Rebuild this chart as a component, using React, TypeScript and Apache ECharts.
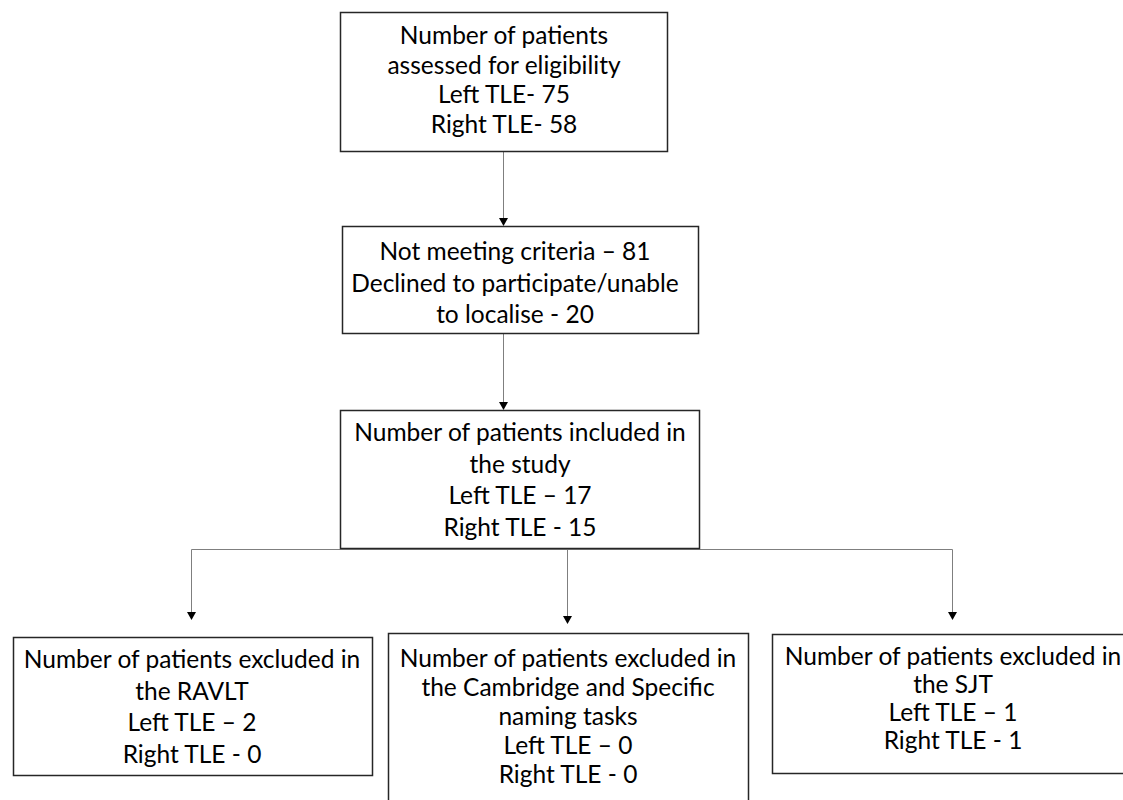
import React, { useEffect, useRef } from "react";
import * as echarts from "echarts";

// ---- Data (texts of the flow chart) ----
const assessedLines = ["Number of patients", "assessed for eligibility", "Left TLE- 75", "Right TLE- 58"];
const excludedLines = ["Not meeting criteria \u2013 81", "Declined to participate/unable", "to localise - 20"];
const includedLines = ["Number of patients included in", "the study", "Left TLE \u2013 17", "Right TLE - 15"];
const ravltLines = ["Number of patients excluded in", "the RAVLT", "Left TLE \u2013 2", "Right TLE - 0"];
const namingLines = ["Number of patients excluded in", "the Cambridge and Specific", "naming tasks", "Left TLE \u2013 0", "Right TLE - 0"];
const sjtLines = ["Number of patients excluded in", "the SJT", "Left TLE \u2013 1", "Right TLE - 1"];

// ---- Layout ----
const FONT = "Lato, 'Open Sans', sans-serif";
const FONT_SIZE = 24.5;
const BOX_STROKE = "#262626";
const LINE_STROKE = "#7f7f7f";

const boxLayout = [
  { lines: assessedLines, x: 340, y: 12, w: 327, h: 139, cx: 504, cy: 79, lh: 29.5 },
  { lines: excludedLines, x: 342, y: 226, w: 356, h: 107, cx: 515, cy: 282, lh: 31.5 },
  { lines: includedLines, x: 340, y: 410, w: 359, h: 138, cx: 520, cy: 479, lh: 31.5 },
  { lines: ravltLines, x: 13, y: 637, w: 359, h: 138, cx: 192, cy: 706, lh: 31.5 },
  { lines: namingLines, x: 388, y: 633, w: 360, h: 200, cx: 568, cy: 715, lh: 29 },
  { lines: sjtLines, x: 772, y: 634, w: 390, h: 139, cx: 953, cy: 697, lh: 28 },
];

// connectors: [x1, y1, x2, y2, arrow?]
const connectors: [number, number, number, number, boolean][] = [
  [503.5, 151, 503.5, 226, true],
  [503.5, 333, 503.5, 410, true],
  [191.5, 549.5, 952.5, 549.5, false],
  [191.5, 549.5, 191.5, 620, true],
  [567.5, 548, 567.5, 624, true],
  [952.5, 549.5, 952.5, 620, true],
];

export default function App() {
  const ref = useRef<HTMLDivElement>(null);
  useEffect(() => {
    if (!ref.current) return;
    const chart = echarts.init(ref.current, null, { renderer: "svg" });
    const elements: any[] = [];

    connectors.forEach(([x1, y1, x2, y2, arrow]) => {
      const endY = arrow ? y2 - 8 : y2;
      elements.push({
        type: "line",
        shape: { x1, y1, x2, y2: endY },
        style: { stroke: LINE_STROKE, lineWidth: 1 },
        z: 1,
      });
      if (arrow) {
        elements.push({
          type: "polygon",
          shape: { points: [[x2 - 4.5, y2 - 8], [x2 + 4.5, y2 - 8], [x2, y2]] },
          style: { fill: "#000" },
          z: 1,
        });
      }
    });

    boxLayout.forEach((b) => {
      elements.push({
        type: "rect",
        shape: { x: b.x + 0.5, y: b.y + 0.5, width: b.w, height: b.h },
        style: { fill: "#fff", stroke: BOX_STROKE, lineWidth: 1.5 },
        z: 2,
      });
      const n = b.lines.length;
      b.lines.forEach((t, i) => {
        elements.push({
          type: "text",
          x: b.cx,
          y: b.cy + (i - (n - 1) / 2) * b.lh,
          style: {
            text: t,
            fill: "#000",
            font: `${FONT_SIZE}px ${FONT}`,
            align: "center",
            verticalAlign: "middle",
          },
          z: 3,
        });
      });
    });

    chart.setOption({
      animation: false,
      backgroundColor: "#fff",
      graphic: { elements },
    });
    return () => chart.dispose();
  }, []);
  return (
    <div
      ref={ref}
      style={{ position: "fixed", left: 0, top: 0, width: 1123, height: 800, background: "#fff" }}
    />
  );
}
